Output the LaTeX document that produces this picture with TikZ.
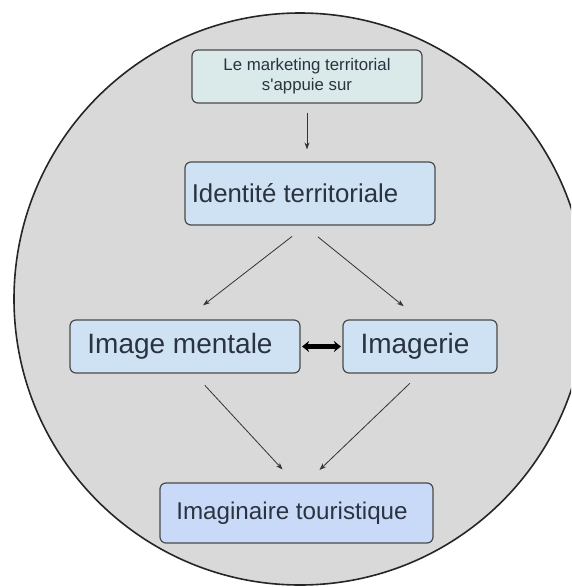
\documentclass[tikz,border=0pt]{standalone}
\usepackage{fontspec}
\setmainfont{Liberation Sans}
\usetikzlibrary{arrows.meta,calc}
\definecolor{bgcirc}{HTML}{D9D9D9}
\definecolor{topfill}{HTML}{DAEAEA}
\definecolor{bluefill}{HTML}{CFE2F3}
\definecolor{lavfill}{HTML}{C9DAF8}
\definecolor{txt}{HTML}{2B3240}
\definecolor{edge}{HTML}{4A4A4A}
\tikzset{
  boxstyle/.style={draw=edge, line width=1.2pt, rounded corners=6pt, text=txt, inner sep=0pt, align=center},
  arr/.style={draw=black!80, line width=0.8pt, -{Stealth[length=7pt,width=5pt]}},
  dbl/.style={draw=black, line width=4.5pt, {Stealth[length=7pt,width=11pt]}-{Stealth[length=7pt,width=11pt]}}
}
\begin{document}
\begin{tikzpicture}[x=1pt,y=-1pt]
\useasboundingbox (0,0) rectangle (571,587);
\clip (0,0) rectangle (571,587);
\fill[white] (0,0) rectangle (571,587);
\draw[fill=bgcirc, draw=black!85, line width=1.6pt] (300,299) circle[radius=286];
\node[boxstyle, fill=topfill, minimum width=230pt, minimum height=53pt, font=\fontsize{16.8}{20}\selectfont] (top) at (307,76.5) {Le marketing territorial\hspace{4pt}\\s\textquotesingle appuie sur\hspace{4pt}};
\node[boxstyle, fill=bluefill, minimum width=250pt, minimum height=63pt, font=\fontsize{25.8}{30}\selectfont] (ident) at (310,193.5) {Identité territoriale\hspace{30pt}};
\node[boxstyle, fill=bluefill, minimum width=230pt, minimum height=53pt, font=\fontsize{28}{30}\selectfont] (im) at (185,346.5) {Image mentale\hspace{10pt}};
\node[boxstyle, fill=bluefill, minimum width=154pt, minimum height=53pt, font=\fontsize{28}{30}\selectfont] (ir) at (420,346.5) {Imagerie\hspace{10pt}};
\node[boxstyle, fill=lavfill, minimum width=273pt, minimum height=60pt, font=\fontsize{24.2}{28}\selectfont] (imag) at (296.5,513) {Imaginaire touristique\hspace{9pt}};
\draw[arr, shorten <=9pt, shorten >=12pt] (top.south) -- (top.south |- ident.north);
\draw[arr, shorten <=17.6pt, shorten >=23pt] ($(ident.south)+(-4,0)$) -- (im.north);
\draw[arr, shorten <=17.8pt, shorten >=21pt] ($(ident.south)+(-6,0)$) -- (ir.north);
\draw[arr, shorten <=16pt, shorten >=17.6pt] ($(im.south)+(9,0)$) -- ($(imag.north)+(-2,0)$);
\draw[arr, shorten <=14pt, shorten >=18pt] (ir.south) -- ($(imag.north)+(10,0)$);
\draw[dbl, shorten <=1.5pt, shorten >=1.5pt] (im.east) -- (ir.west);
\end{tikzpicture}
\end{document}
